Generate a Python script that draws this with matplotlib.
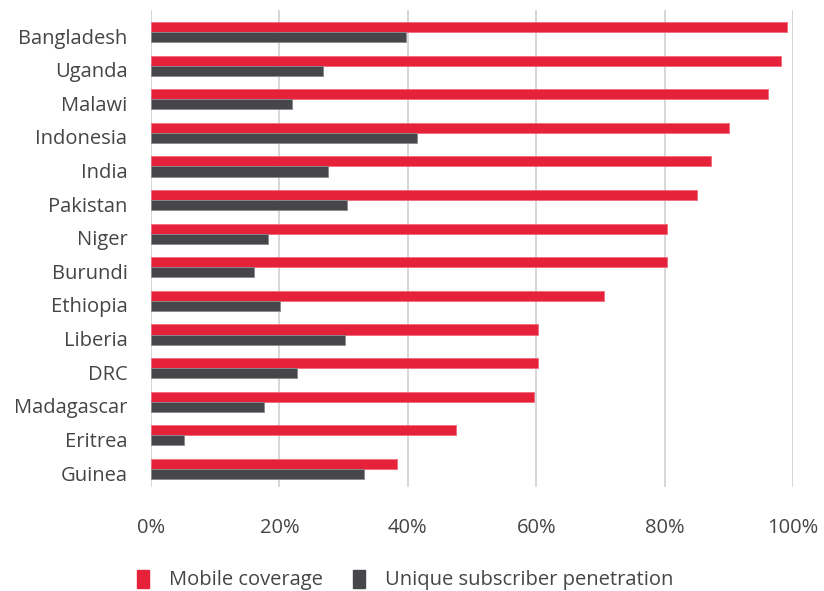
import matplotlib
matplotlib.use("Agg")
import matplotlib.pyplot as plt
import matplotlib.patches as mpatches
import numpy as np

countries = ["Bangladesh", "Uganda", "Malawi", "Indonesia", "India", "Pakistan", "Niger",
             "Burundi", "Ethiopia", "Liberia", "DRC", "Madagascar", "Eritrea", "Guinea"]
coverage = [99.0, 98.1, 96.1, 90.1, 87.2, 85.0, 80.3, 80.4, 70.6, 60.3, 60.3, 59.7, 47.5, 38.3]
penetration = [39.7, 26.8, 22.0, 41.4, 27.6, 30.5, 18.3, 16.0, 20.1, 30.2, 22.7, 17.6, 5.2, 33.1]
xticks = [0, 20, 40, 60, 80, 100]

RED = "#E6223A"
DARK = "#47474B"
TXT = "#454545"
GRID = "#D0D0D0"

plt.rcParams["font.family"] = ["Open Sans", "DejaVu Sans"]
FS = 14.5

fig = plt.figure(figsize=(8.24, 5.91), dpi=100)
ax = fig.add_axes([151 / 824, 1 - 487 / 591, (793 - 151) / 824, (487 - 10) / 591])

y = np.arange(len(countries))
h = 0.3
ax.barh(y - h / 2, coverage, height=h, color=RED, edgecolor="#F06A7A", lw=0.6, zorder=3)
ax.barh(y + h / 2, penetration, height=h, color=DARK, edgecolor="#8A8A8E", lw=0.6, zorder=3)

ax.set_xlim(0, 100)
ax.set_ylim(len(countries) - 1 + 0.536, -0.655)
ax.set_xticks(xticks)
ax.set_xticklabels([f"{t}%" for t in xticks])
ax.set_yticks(y + 0.12)
ax.set_yticklabels(countries)
ax.tick_params(axis="x", length=0, pad=22, labelsize=FS, labelcolor=TXT)
ax.tick_params(axis="y", length=0, pad=17, labelsize=FS, labelcolor=TXT)
for t in xticks:
    ax.axvline(t, color=GRID, lw=1.2, zorder=1)
for s in ax.spines.values():
    s.set_visible(False)

handles = [mpatches.Patch(color=RED, label="Mobile coverage"),
           mpatches.Patch(color=DARK, label="Unique subscriber penetration")]
fig.legend(handles=handles, loc="center", bbox_to_anchor=(405 / 824, 1 - 580 / 591),
           ncol=2, frameon=False, fontsize=FS, labelcolor=TXT,
           handlelength=0.6, handleheight=1.0, handletextpad=1.0, columnspacing=1.5)

fig.savefig("out.png", dpi=100)
